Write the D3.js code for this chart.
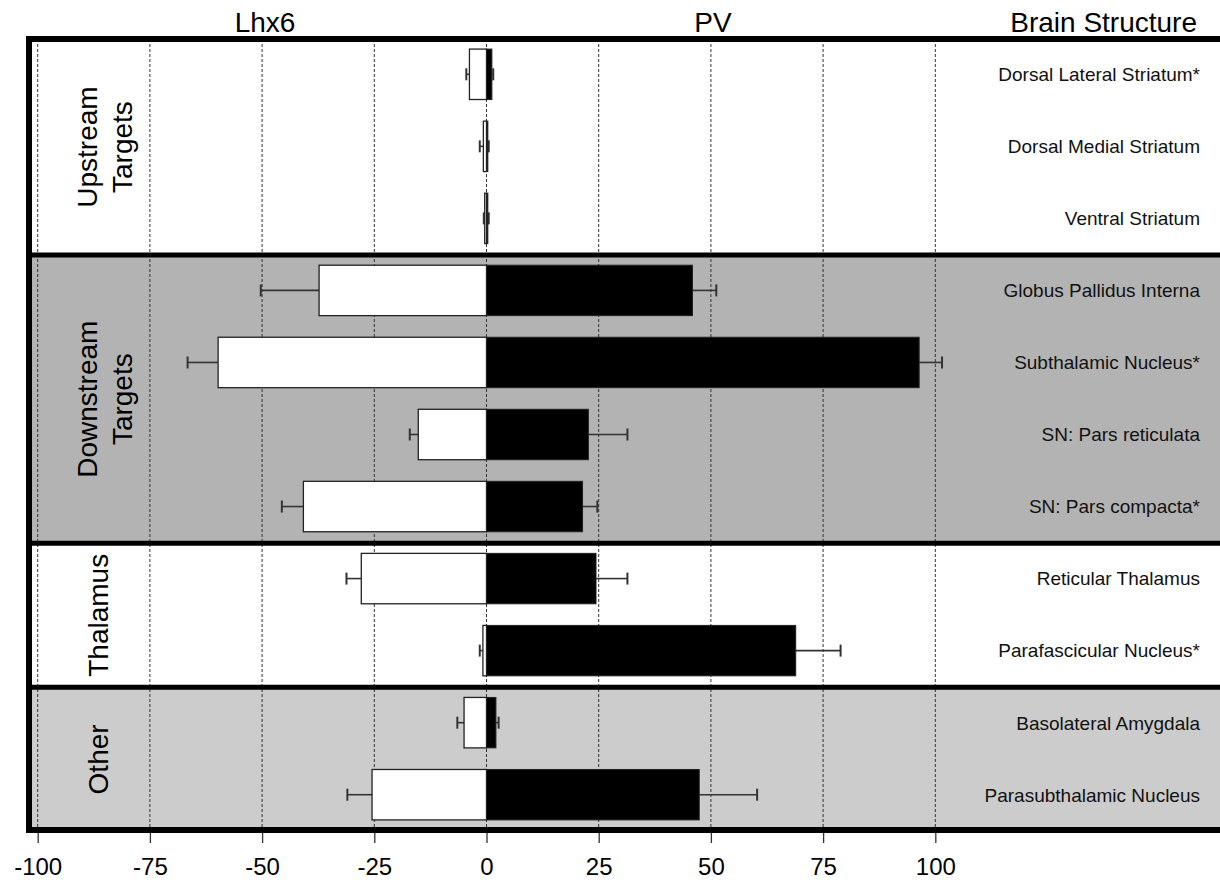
<!DOCTYPE html>
<html>
<head>
<meta charset="utf-8">
<script src="https://cdn.jsdelivr.net/npm/d3@7"></script>
<style>
  body { margin: 0; background: #fff; }
  svg { display: block; font-family: "Liberation Sans", Arial, sans-serif; }
</style>
</head>
<body>
<div id="chart"></div>
<script>
// data
const structures = [
  "Dorsal Lateral Striatum*", "Dorsal Medial Striatum", "Ventral Striatum",
  "Globus Pallidus Interna", "Subthalamic Nucleus*", "SN: Pars reticulata", "SN: Pars compacta*",
  "Reticular Thalamus", "Parafascicular Nucleus*",
  "Basolateral Amygdala", "Parasubthalamic Nucleus"
];
const lhx6 = [-3.8, -0.7, -0.4, -37.3, -59.8, -15.2, -40.8, -27.9, -0.8, -5.0, -25.5];
const lhx6Err = [0.7, 0.8, 0.2, 13.0, 6.8, 1.9, 4.8, 3.3, 0.7, 1.5, 5.5];
const pv = [1.2, 0.3, 0.3, 45.9, 96.4, 22.7, 21.4, 24.4, 68.9, 2.1, 47.4];
const pvErr = [0.3, 0.2, 0.2, 5.3, 5.1, 8.7, 3.3, 7.0, 10.0, 0.6, 12.9];
const sectionNames = [["Upstream", "Targets"], ["Downstream", "Targets"], ["Thalamus"], ["Other"]];
const sectionSizes = [3, 4, 2, 2];
const xTicks = [-100, -75, -50, -25, 0, 25, 50, 75, 100];

const sectionFill = ["#ffffff", "#b3b3b3", "#ffffff", "#cccccc"];

const W = 1220, H = 882;
const plotTop = 39, plotBottom = 830, plotLeft = 29, plotRight = 1230;

const svg = d3.select("#chart").append("svg")
  .attr("width", W)
  .attr("height", H);

const x = d3.scaleLinear()
  .domain([-100, 100])
  .range([37.7, 935.3]);

const y = d3.scaleBand()
  .domain(structures)
  .range([plotTop, plotBottom])
  .paddingInner(0.3)
  .paddingOuter(0.14);

const step = y.step();

// section backgrounds
let start = 0;
const sections = sectionSizes.map((n, i) => {
  const s = { i, start, n, y0: plotTop + start * step, y1: plotTop + (start + n) * step };
  start += n;
  return s;
});

svg.selectAll(".bg")
  .data(sections)
  .enter().append("rect")
  .attr("x", plotLeft)
  .attr("y", d => d.y0)
  .attr("width", plotRight - plotLeft)
  .attr("height", d => d.y1 - d.y0)
  .attr("fill", d => sectionFill[d.i]);

// dashed gridlines
svg.append("g")
  .selectAll("line")
  .data(xTicks)
  .enter().append("line")
  .attr("x1", d => x(d))
  .attr("x2", d => x(d))
  .attr("y1", plotTop)
  .attr("y2", plotBottom)
  .attr("stroke", "#333")
  .attr("stroke-width", 1)
  .attr("stroke-dasharray", "3,2");

// bottom axis
const axis = svg.append("g")
  .attr("transform", "translate(0," + (plotBottom + 3) + ")")
  .call(d3.axisBottom(x).tickValues(xTicks).tickSize(10).tickSizeOuter(0).tickFormat(d3.format("d")));
axis.select(".domain").remove();
axis.selectAll(".tick line").attr("stroke", "#333").attr("stroke-width", 1.3);
axis.selectAll(".tick text")
  .attr("y", 25)
  .attr("dy", "0.72em")
  .style("font-size", "24px")
  .style("font-family", "'Liberation Sans', Arial, sans-serif")
  .attr("fill", "#000")
  .text(d => d < 0 ? "-" + Math.abs(d) : d);

// error bars (drawn first so the bars cover the inner part)
const capH = 12;
function errBars(vals, errs, cls) {
  const g = svg.append("g").attr("class", cls);
  const rows = structures.map((s, i) => ({ s, v: vals[i], e: errs[i] }));
  g.selectAll("line.stem")
    .data(rows)
    .enter().append("line")
    .attr("x1", d => x(d.v))
    .attr("x2", d => x(d.v + Math.sign(d.v) * d.e))
    .attr("y1", d => y(d.s) + y.bandwidth() / 2)
    .attr("y2", d => y(d.s) + y.bandwidth() / 2)
    .attr("stroke", "#333")
    .attr("stroke-width", 1.6);
  g.selectAll("line.cap")
    .data(rows)
    .enter().append("line")
    .attr("x1", d => x(d.v + Math.sign(d.v) * d.e))
    .attr("x2", d => x(d.v + Math.sign(d.v) * d.e))
    .attr("y1", d => y(d.s) + y.bandwidth() / 2 - capH / 2)
    .attr("y2", d => y(d.s) + y.bandwidth() / 2 + capH / 2)
    .attr("stroke", "#333")
    .attr("stroke-width", 2);
}
errBars(lhx6, lhx6Err, "err-lhx6");
errBars(pv, pvErr, "err-pv");

// Lhx6 bars (white, negative side)
svg.append("g")
  .selectAll("rect")
  .data(structures)
  .enter().append("rect")
  .attr("x", (d, i) => x(lhx6[i]))
  .attr("y", d => y(d))
  .attr("width", (d, i) => x(0) - x(lhx6[i]))
  .attr("height", y.bandwidth())
  .attr("fill", "#fff")
  .attr("stroke", "#222")
  .attr("stroke-width", 1.3);

// PV bars (black, positive side)
svg.append("g")
  .selectAll("rect")
  .data(structures)
  .enter().append("rect")
  .attr("x", x(0))
  .attr("y", d => y(d))
  .attr("width", (d, i) => x(pv[i]) - x(0))
  .attr("height", y.bandwidth())
  .attr("fill", "#000")
  .attr("stroke", "#222")
  .attr("stroke-width", 1);

// structure labels
svg.append("g")
  .selectAll("text")
  .data(structures)
  .enter().append("text")
  .attr("x", 1200)
  .attr("y", d => y(d) + y.bandwidth() / 2)
  .attr("dy", "0.36em")
  .attr("text-anchor", "end")
  .style("font-size", "19px")
  .attr("fill", "#111")
  .text(d => d);

// section labels (rotated)
sections.forEach(s => {
  const lines = sectionNames[s.i];
  const cy = (s.y0 + s.y1) / 2;
  const xs = lines.length === 2 ? [97, 132] : [108];
  lines.forEach((t, j) => {
    svg.append("text")
      .attr("transform", "translate(" + xs[j] + "," + cy + ") rotate(-90)")
      .attr("text-anchor", "middle")
      .style("font-size", "28px")
      .attr("fill", "#000")
      .text(t);
  });
});

// section dividers
svg.append("g")
  .selectAll("line")
  .data(sections.slice(1))
  .enter().append("line")
  .attr("x1", plotLeft)
  .attr("x2", plotRight)
  .attr("y1", d => d.y0)
  .attr("y2", d => d.y0)
  .attr("stroke", "#000")
  .attr("stroke-width", 5);

// outer frame
svg.append("path")
  .attr("d", `M${plotRight},${plotTop}H${plotLeft}V${plotBottom}H${plotRight}`)
  .attr("fill", "none")
  .attr("stroke", "#000")
  .attr("stroke-width", 6);

// column headers
const headers = [
  { t: "Lhx6", x: 265, a: "middle" },
  { t: "PV", x: 713, a: "middle" },
  { t: "Brain Structure", x: 1197, a: "end" }
];
svg.selectAll(".hdr")
  .data(headers)
  .enter().append("text")
  .attr("x", d => d.x)
  .attr("y", 32)
  .attr("text-anchor", d => d.a)
  .style("font-size", "28px")
  .attr("fill", "#000")
  .text(d => d.t);
</script>
</body>
</html>
